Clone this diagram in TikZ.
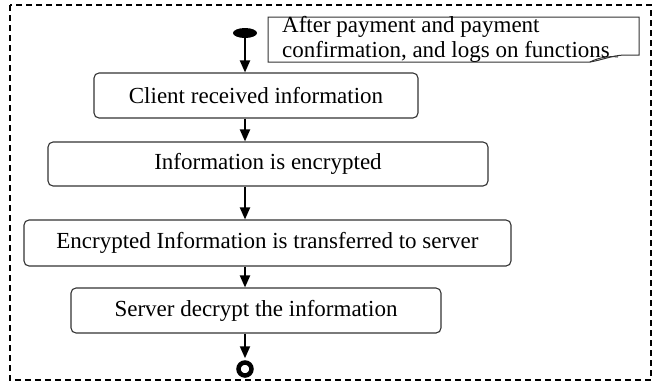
\documentclass[tikz,border=0pt]{standalone}
\usepackage{fontspec}
\setmainfont{Liberation Serif}
\usetikzlibrary{arrows.meta,shapes.geometric,calc}

\tikzset{
  stepbox/.style={draw=black!80, line width=1.1pt, rounded corners=5pt,
    inner sep=0pt, font=\fontsize{23}{25}\selectfont},
  flow/.style={line width=2pt, -{Triangle[width=10pt,length=12pt]}},
  notetext/.style={anchor=base west, inner sep=0pt, font=\fontsize{23}{25}\selectfont},
  frame/.style={line width=1.8pt, dash pattern=on 6pt off 4pt}
}

\begin{document}
\begin{tikzpicture}[x=1pt,y=-1pt]
  \useasboundingbox (0,0) rectangle (654,384);

  % dashed enclosing frame
  \draw[frame] (10,5) rectangle (651,380);

  % initial and final states
  \node[ellipse, fill=black, minimum width=24pt, minimum height=10pt, inner sep=0pt] (start) at (245,33) {};
  \node[circle, draw=black, line width=4.5pt, minimum size=13pt, inner sep=0pt] (stop) at (245,369) {};

  % comment note with a curled corner
  \draw[draw=black!80, line width=1pt]
    (268,17) -- (639,17) -- (639,55) -- (624,55)
    .. controls (612,55.5) and (602,60) .. (590,62) -- (268,62) -- cycle;
  \draw[draw=black!80, line width=1pt] (590,62) .. controls (600,57) and (610,56) .. (618,57);
  \node[notetext] (notea) at (282,32) {After payment and payment};
  \node[notetext] (noteb) at (282,57) {confirmation, and logs on functions};

  % activity steps
  \node[stepbox, minimum width=324pt, minimum height=45pt] (b1) at (256,95.5) {Client received information};
  \node[stepbox, minimum width=440pt, minimum height=44pt] (b2) at (268,164) {Information is encrypted};
  \node[stepbox, minimum width=487pt, minimum height=46pt] (b3) at (267.5,243) {Encrypted Information is transferred to server};
  \node[stepbox, minimum width=370pt, minimum height=45pt] (b4) at (256,310.5) {Server decrypt the information};

  % control flow
  \draw[flow] (start.south) -- (start.south |- b1.north);
  \draw[flow] (b1.south -| start) -- (b2.north -| start);
  \draw[flow] (b2.south -| start) -- (b3.north -| start);
  \draw[flow] (b3.south -| start) -- (b4.north -| start);
  \draw[flow, shorten >=2pt] (b4.south -| start) -- (stop.north);
\end{tikzpicture}
\end{document}
